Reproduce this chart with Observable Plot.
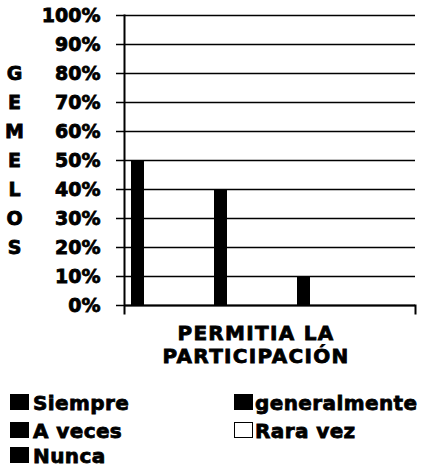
<!DOCTYPE html>
<html>
<head>
<meta charset="utf-8">
<script src="https://cdn.jsdelivr.net/npm/d3@7"></script>
<script src="https://cdn.jsdelivr.net/npm/@observablehq/plot@0.6"></script>
<style>
  html, body { margin: 0; padding: 0; background: #fff; }
  #wrap { position: relative; width: 424px; height: 471px; font-family: "DejaVu Sans", sans-serif; font-weight: bold; color: #000; }
  #chart { position: absolute; left: 0; top: 0; }
  #chart svg text { stroke: #000; stroke-width: 0.8px; }
  #xtitle { position: absolute; left: 0; width: 512px; top: 322px; text-align: center; font-size: 20px; line-height: 23px; letter-spacing: 1.3px; -webkit-text-stroke: 0.8px #000; }
  .leg { position: absolute; font-size: 20px; line-height: 20px; letter-spacing: 0.4px; white-space: nowrap; -webkit-text-stroke: 0.8px #000; }
  .sw { position: absolute; width: 19px; height: 16px; box-sizing: border-box; border: 1.5px solid #000; }
</style>
</head>
<body>
<div id="wrap">
  <div id="chart"></div>
  <div id="xtitle"></div>
  <div id="legend"></div>
</div>
<script>
const series = ["Siempre", "generalmente", "A veces", "Rara vez", "Nunca"];
const values = [0.50, 0.40, 0.10, 0, 0];
const fills = ["#000", "#000", "#000", "#fff", "#000"];
const yTicks = [0, 0.1, 0.2, 0.3, 0.4, 0.5, 0.6, 0.7, 0.8, 0.9, 1.0];
const yLabelLetters = ["G", "E", "M", "E", "L", "O", "S"];
const yLabelTicks = [0.8, 0.7, 0.6, 0.5, 0.4, 0.3, 0.2];
const xTitleLines = ["PERMITIA LA", "PARTICIPACIÓN"];

const data = series.map((s, i) => ({serie: s, value: values[i]}));
const letters = yLabelLetters.map((t, i) => ({t, y: yLabelTicks[i]}));

const chart = Plot.plot({
  width: 424,
  height: 316,
  marginTop: 15,
  marginBottom: 11,
  marginLeft: 124,
  marginRight: 9,
  style: {fontFamily: "DejaVu Sans", fontSize: "19px", fontWeight: "bold", color: "#000", background: "#fff", overflow: "visible"},
  x: {type: "band", domain: series, range: [131, 480.4], paddingInner: 0.84, paddingOuter: 0, align: 0, axis: null},
  y: {domain: [0, 1], axis: null},
  color: {type: "ordinal", domain: series, range: fills},
  marks: [
    Plot.ruleY(yTicks, {stroke: "#000", strokeWidth: 1.5}),
    Plot.barY(data, {x: "serie", y: "value", fill: "serie"}),
    Plot.ruleY([0], {stroke: "#000", strokeWidth: 2}),
    Plot.axisY({ticks: yTicks, tickFormat: d3.format(".0%"), tickSize: 8, tickPadding: 16, fontSize: 19, strokeWidth: 1.5}),
    Plot.frame({anchor: "left", insetBottom: -8, stroke: "#000", strokeWidth: 2}),
    Plot.frame({anchor: "right", insetTop: 290, insetBottom: -8, stroke: "#000", strokeWidth: 2}),
    Plot.text(letters, {y: "y", text: "t", frameAnchor: "left", dx: -110, textAnchor: "middle", fontSize: 19})
  ]
});
document.getElementById("chart").appendChild(chart);

const xt = document.getElementById("xtitle");
xTitleLines.forEach(l => { const d = document.createElement("div"); d.textContent = l; xt.appendChild(d); });

const leg = document.getElementById("legend");
const rowTops = [393, 421, 446];
const colSw = [10, 234];
const colTx = [33, 255];
series.forEach((s, i) => {
  const col = i % 2, row = Math.floor(i / 2);
  const sw = document.createElement("div");
  sw.className = "sw";
  sw.style.left = colSw[col] + "px";
  sw.style.top = (rowTops[row] + 1) + "px";
  sw.style.background = fills[i];
  leg.appendChild(sw);
  const tx = document.createElement("div");
  tx.className = "leg";
  tx.style.left = colTx[col] + "px";
  tx.style.top = rowTops[row] + "px";
  tx.textContent = s;
  leg.appendChild(tx);
});
</script>
</body>
</html>
